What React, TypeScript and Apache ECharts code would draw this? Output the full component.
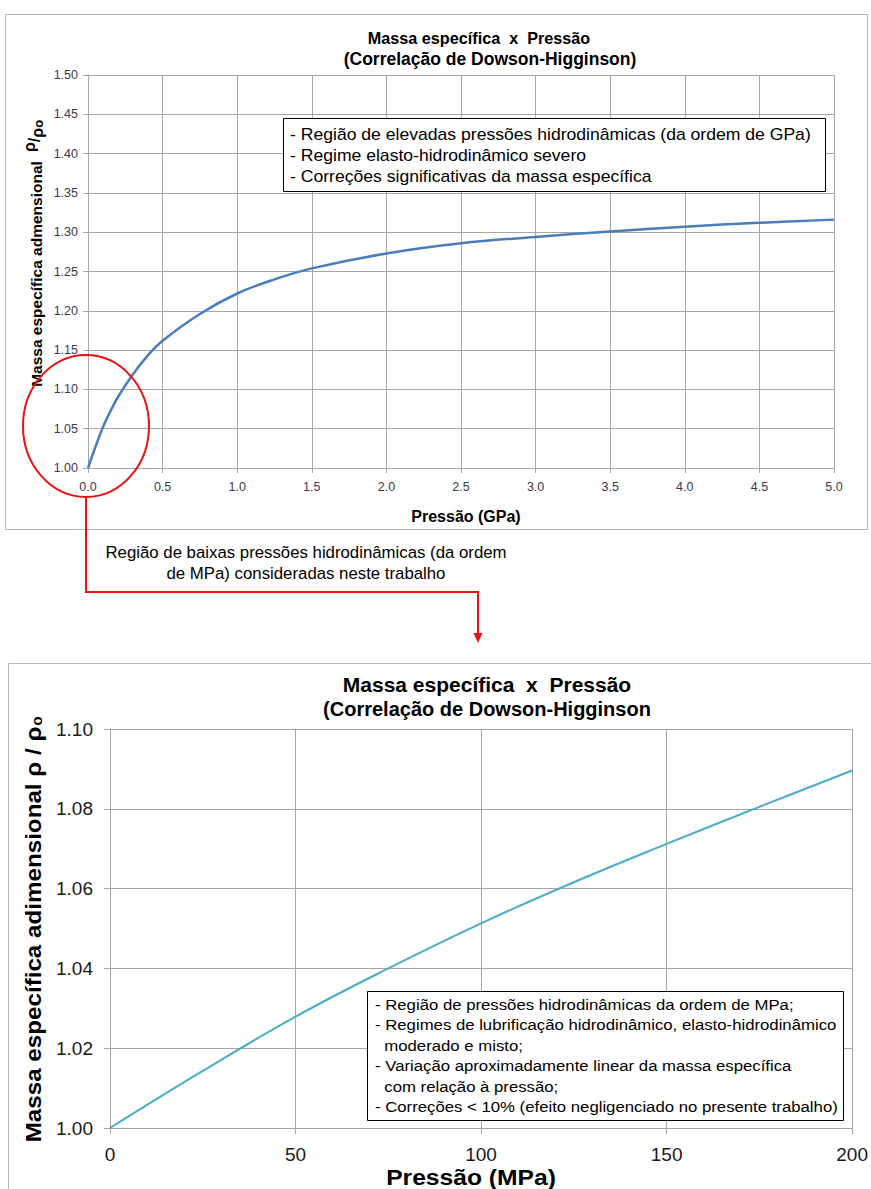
import React, { useEffect, useRef } from "react";
import * as echarts from "echarts";

// Top chart (GPa)
const topPressure = [0, 0.05, 0.1, 0.15, 0.2, 0.3, 0.4, 0.5, 0.75, 1.0, 1.25, 1.5, 2.0, 2.5, 3.0, 3.5, 4.0, 4.5, 5.0];
const topDensity = [1.0, 1.027, 1.052, 1.072, 1.09, 1.119, 1.143, 1.162, 1.196, 1.222, 1.24, 1.254, 1.273, 1.286, 1.294, 1.301, 1.307, 1.312, 1.316];

// Bottom chart (MPa)
const botPressure = [0, 25, 50, 75, 100, 125, 150, 175, 200];
const botDensity = [1.0, 1.0143, 1.0279, 1.04, 1.0513, 1.0616, 1.0712, 1.0805, 1.0896];

const topTitle = ["Massa específica  x  Pressão", "(Correlação de Dowson-Higginson)"];
const botTitle = ["Massa específica  x  Pressão", "(Correlação de Dowson-Higginson"];
const topNotes = [
  "- Região de elevadas pressões hidrodinâmicas (da ordem de GPa)",
  "- Regime elasto-hidrodinâmico severo",
  "- Correções significativas da massa específica",
];
const botNotes = [
  "- Região de pressões hidrodinâmicas da ordem de MPa;",
  "- Regimes de lubrificação hidrodinâmico, elasto-hidrodinâmico",
  "  moderado e misto;",
  "- Variação aproximadamente linear da massa específica",
  "  com relação à pressão;",
  "- Correções < 10% (efeito negligenciado no presente trabalho)",
];
const arrowNote = ["Região de baixas pressões hidrodinâmicas (da ordem", "de MPa) consideradas neste trabalho"];

const NARROW = '"Liberation Sans Narrow", "Arial Narrow", "Liberation Sans", Arial, sans-serif';
const SANS = '"Liberation Sans", Arial, sans-serif';

export default function App() {
  const ref = useRef<HTMLDivElement>(null);
  useEffect(() => {
    if (!ref.current) return;
    const chart = echarts.init(ref.current, null, { renderer: "svg" });
    const grid = "#a6a6a6";
    const option: any = {
      animation: false,
      backgroundColor: "#ffffff",
      grid: [
        { left: 88, top: 75, width: 746, height: 393 },
        { left: 110, top: 729, width: 747, height: 399 },
      ],
      xAxis: [
        {
          gridIndex: 0, type: "value", min: 0, max: 5, interval: 0.5,
          axisLine: { show: true, lineStyle: { color: grid } },
          axisTick: { show: true, length: 5, lineStyle: { color: grid } },
          splitLine: { show: true, lineStyle: { color: grid, width: 1 } },
          axisLabel: { margin: 12, fontSize: 12.5, fontFamily: SANS, color: "#3a3a48", formatter: (v: number) => v.toFixed(1) },
        },
        {
          gridIndex: 1, type: "value", min: 0, max: 200, interval: 50,
          axisLine: { show: true, lineStyle: { color: grid } },
          axisTick: { show: true, length: 6, lineStyle: { color: grid } },
          splitLine: { show: true, lineStyle: { color: grid, width: 1 } },
          axisLabel: { margin: 17, fontSize: 19, fontFamily: SANS, color: "#1a1a1a", showMaxLabel: true },
        },
      ],
      yAxis: [
        {
          gridIndex: 0, type: "value", min: 1, max: 1.5, interval: 0.05,
          axisLine: { show: true, lineStyle: { color: grid } },
          axisTick: { show: true, length: 5, lineStyle: { color: grid } },
          splitLine: { show: true, lineStyle: { color: grid, width: 1 } },
          axisLabel: { margin: 10, fontSize: 12.5, fontFamily: SANS, color: "#3a3a48", formatter: (v: number) => v.toFixed(2) },
        },
        {
          gridIndex: 1, type: "value", min: 1, max: 1.1, interval: 0.02,
          axisLine: { show: true, lineStyle: { color: grid } },
          axisTick: { show: true, length: 6, lineStyle: { color: grid } },
          splitLine: { show: true, lineStyle: { color: grid, width: 1 } },
          axisLabel: { margin: 17, fontSize: 19, fontFamily: SANS, color: "#1a1a1a", formatter: (v: number) => v.toFixed(2) },
        },
      ],
      series: [
        {
          type: "line", xAxisIndex: 0, yAxisIndex: 0, smooth: 0.4, showSymbol: false,
          lineStyle: { color: "#4a7ebb", width: 2.5 },
          data: topPressure.map((p, i) => [p, topDensity[i]]),
        },
        {
          type: "line", xAxisIndex: 1, yAxisIndex: 1, smooth: 0.4, showSymbol: false,
          lineStyle: { color: "#4bacc6", width: 2 },
          data: botPressure.map((p, i) => [p, botDensity[i]]),
        },
      ],
      graphic: [
        // chart borders
        { type: "rect", z: -10, shape: { x: 5.5, y: 14.5, width: 862, height: 515 }, style: { fill: "none", stroke: "#b8b8b8", lineWidth: 1 } },
        { type: "rect", z: -10, shape: { x: 8.5, y: 663.5, width: 880, height: 560 }, style: { fill: "none", stroke: "#b8b8b8", lineWidth: 1 } },
        // top titles
        { type: "text", x: 479, y: 38, style: { text: topTitle[0], fontSize: 16.2, fontWeight: "bold", fontFamily: NARROW, fill: "#000", align: "center", verticalAlign: "middle" } },
        { type: "text", x: 490, y: 59, style: { text: topTitle[1], fontSize: 17.5, fontWeight: "bold", fontFamily: NARROW, fill: "#000", align: "center", verticalAlign: "middle" } },
        { type: "text", x: 466, y: 516, style: { text: "Pressão (GPa)", fontSize: 16, fontWeight: "bold", fontFamily: NARROW, fill: "#000", align: "center", verticalAlign: "middle" } },
        { type: "text", x: 36, y: 274, rotation: Math.PI / 2, style: { text: "Massa específica admensional", fontSize: 15.5, fontWeight: "bold", fontFamily: NARROW, fill: "#000", align: "center", verticalAlign: "middle" } },
        {
          type: "text", x: 34, y: 136, rotation: Math.PI / 2,
          style: {
            text: "{a|ρ}{b|/}{c|ρ}{d|o}", align: "center", verticalAlign: "middle", fill: "#000",
            rich: {
              a: { fontSize: 16, fontWeight: "bold", fontFamily: SANS, padding: [0, 0, 9, 0] },
              b: { fontSize: 16, fontWeight: "bold", fontFamily: SANS },
              c: { fontSize: 16, fontWeight: "bold", fontFamily: SANS, padding: [7, 0, 0, 0] },
              d: { fontSize: 13, fontWeight: "bold", fontFamily: SANS, padding: [9, 0, 0, 0] },
            },
          },
        },
        // top notes box
        { type: "rect", z: 50, shape: { x: 283.5, y: 118.5, width: 542, height: 73 }, style: { fill: "#fff", stroke: "#000", lineWidth: 1 } },
        { type: "text", z: 51, x: 290, y: 124, scaleX: 1.1, style: { text: topNotes.join("\n"), fontSize: 16, lineHeight: 21, fontFamily: SANS, fill: "#000", align: "left", verticalAlign: "top" } },
        // red highlight ellipse & arrow
        { type: "ellipse", z: 60, shape: { cx: 86, cy: 426, rx: 63, ry: 71 }, style: { fill: "none", stroke: "#ee1111", lineWidth: 2 } },
        { type: "polyline", z: 60, shape: { points: [[86, 497], [86, 592], [478, 592], [478, 636]] }, style: { fill: "none", stroke: "#ee1111", lineWidth: 2 } },
        { type: "polygon", z: 60, shape: { points: [[473.5, 633], [482.5, 633], [478, 643]] }, style: { fill: "#ee1111" } },
        { type: "text", x: 306, y: 552, style: { text: arrowNote[0], fontSize: 16.8, fontFamily: NARROW, fill: "#000", align: "center", verticalAlign: "middle" } },
        { type: "text", x: 306, y: 573, style: { text: arrowNote[1], fontSize: 16.8, fontFamily: NARROW, fill: "#000", align: "center", verticalAlign: "middle" } },
        // bottom titles
        { type: "text", x: 487, y: 684, style: { text: botTitle[0], fontSize: 21, fontWeight: "bold", fontFamily: NARROW, fill: "#000", align: "center", verticalAlign: "middle" } },
        { type: "text", x: 487, y: 709, style: { text: botTitle[1], fontSize: 20, fontWeight: "bold", fontFamily: NARROW, fill: "#000", align: "center", verticalAlign: "middle" } },
        { type: "text", x: 471, y: 1177, scaleX: 1.12, style: { text: "Pressão (MPa)", fontSize: 22, fontWeight: "bold", fontFamily: SANS, fill: "#000", align: "center", verticalAlign: "middle" } },
        { type: "text", x: 33, y: 929, rotation: Math.PI / 2, scaleX: 1.1, style: { text: "Massa específica adimensional ρ / ρ₀", fontSize: 22, fontWeight: "bold", fontFamily: SANS, fill: "#000", align: "center", verticalAlign: "middle" } },
        // bottom notes box
        { type: "rect", z: 50, shape: { x: 367.5, y: 991.5, width: 476, height: 129 }, style: { fill: "#fff", stroke: "#000", lineWidth: 1 } },
        { type: "text", z: 51, x: 375, y: 994, scaleX: 1.08, style: { text: botNotes.join("\n"), fontSize: 15.5, lineHeight: 20.4, fontFamily: SANS, fill: "#000", align: "left", verticalAlign: "top" } },
      ],
    };
    chart.setOption(option);
    return () => chart.dispose();
  }, []);
  return <div ref={ref} style={{ position: "absolute", left: 0, top: 0, width: 871, height: 1189, background: "#fff" }} />;
}
